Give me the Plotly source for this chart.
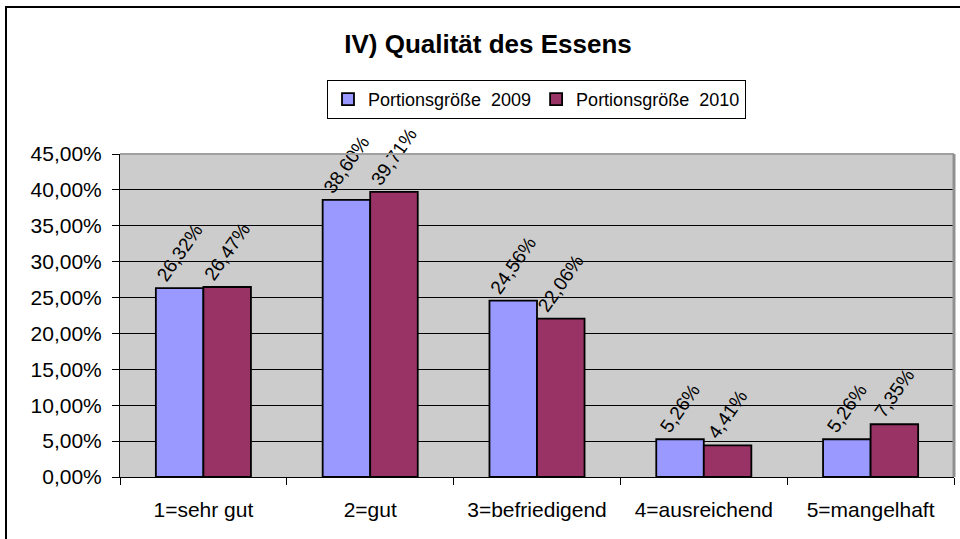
import plotly.graph_objects as go

categories = ["1=sehr gut", "2=gut", "3=befriedigend", "4=ausreichend", "5=mangelhaft"]
series_names = ["Portionsgröße  2009", "Portionsgröße  2010"]
values_2009 = [0.2632, 0.3860, 0.2456, 0.0526, 0.0526]
values_2010 = [0.2647, 0.3971, 0.2206, 0.0441, 0.0735]
colors = ["#9999FF", "#993366"]

FONT = "Liberation Sans, Arial, sans-serif"
L, R, T, B = 120, 6, 154, 62
PW, PH = 960 - L - R, 539 - T - B


def px_x(x):
    return (x - L) / PW


def px_y(y):
    return (539 - B - y) / PH


fig = go.Figure()
for name, vals, col in zip(series_names, [values_2009, values_2010], colors):
    fig.add_trace(go.Bar(
        x=categories, y=vals, name=name,
        marker=dict(color=col, line=dict(color="black", width=1.8)),
        texttemplate="%{y:.2%}", textposition="outside", textangle=-55,
        cliponaxis=False, constraintext="none",
        textfont=dict(family=FONT, size=19, color="black"),
    ))

fig.update_layout(
    width=960, height=539,
    separators=",.",
    barmode="group", bargap=0.43, bargroupgap=0,
    paper_bgcolor="white", plot_bgcolor="#CCCCCC",
    margin=dict(l=L, r=R, t=T, b=B),
    font=dict(family=FONT, size=21, color="black"),
    title=dict(text="<b>IV) Qualität des Essens</b>", x=488 / 960, xanchor="center",
               y=1 - 44 / 539, yref="container", yanchor="middle",
               font=dict(family=FONT, size=26, color="black")),
    legend=dict(orientation="h", x=px_x(536.5), xanchor="center", y=px_y(99.5), yanchor="middle",
                bordercolor="black", borderwidth=1, bgcolor="white",
                font=dict(family=FONT, size=18), itemwidth=30,
                traceorder="normal"),
    showlegend=True,
)
fig.update_yaxes(range=[0, 0.45], tickformat=".2%", dtick=0.05,
                 showgrid=True, gridcolor="black", gridwidth=1,
                 showline=True, linecolor="black", linewidth=1,
                 ticks="outside", ticklen=7, tickcolor="black", ticklabelstandoff=6,
                 tickfont=dict(family=FONT, size=21), zeroline=False)
fig.update_xaxes(showline=True, linecolor="black", linewidth=1,
                 ticks="outside", ticklen=7, tickcolor="black", tickson="boundaries",
                 ticklabelstandoff=14,
                 tickfont=dict(family=FONT, size=21), showgrid=False)

# plot area border (gray top/right) and chart outer border
fig.add_shape(type="line", xref="paper", yref="paper", x0=0, x1=1, y0=1, y1=1,
              line=dict(color="#A0A0A0", width=2))
fig.add_shape(type="line", xref="paper", yref="paper", x0=1, x1=1, y0=0, y1=1,
              line=dict(color="#909090", width=3))
fig.add_shape(type="rect", xref="paper", yref="paper",
              x0=px_x(6), x1=px_x(975), y0=px_y(560), y1=px_y(7),
              line=dict(color="black", width=2))

fig.write_html("out.html", config={"displayModeBar": False},
               post_script="document.body.style.margin='0';document.body.style.overflow='hidden';")
